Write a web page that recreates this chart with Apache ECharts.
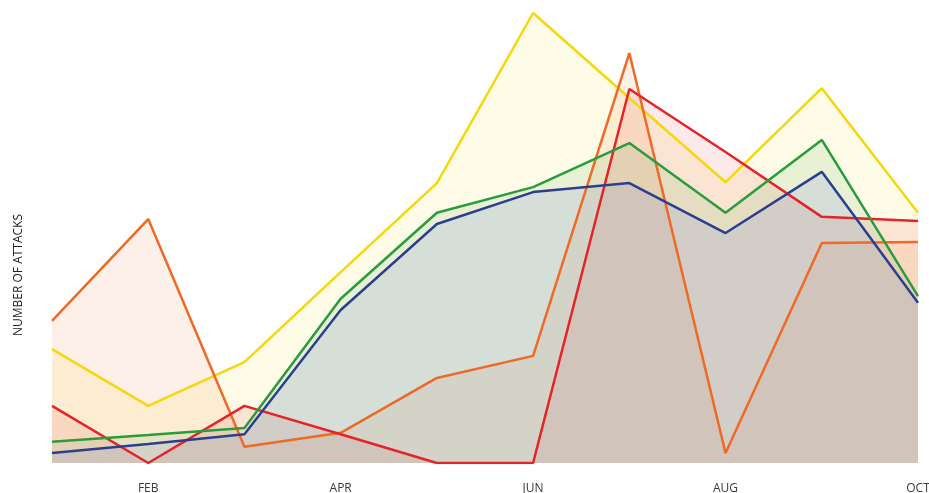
<!DOCTYPE html>
<html>
<head>
<meta charset="utf-8">
<title>Number of attacks</title>
<script src="https://cdn.jsdelivr.net/npm/echarts@6/dist/echarts.min.js"></script>
<style>
    html, body { margin: 0; padding: 0; background: #fff; }
    #chart { width: 929px; height: 493px; }
</style>
</head>
<body>
<div id="chart"></div>
<script>
var months = ['JAN', 'FEB', 'MAR', 'APR', 'MAY', 'JUN', 'JUL', 'AUG', 'SEP', 'OCT'];

// values (0..100 scale)
var yellowData = [25.3, 12.7, 22.4, 42.4, 62.2, 100, 81.1, 62.4, 83.3, 55.6];
var greenData = [4.7, 6.2, 7.8, 36.5, 55.6, 61.3, 71.1, 55.6, 71.8, 37.1];
var blueData = [2.2, 4.2, 6.4, 34.0, 53.1, 60.2, 62.2, 51.1, 64.7, 35.6];
var redData = [12.7, 0, 12.7, 6.4, 0, 0, 83.1, 69.1, 54.7, 53.8];
var orangeData = [31.6, 54.2, 3.6, 6.7, 18.9, 23.8, 91.1, 2.2, 48.9, 49.1];

var chart = echarts.init(document.getElementById('chart'));

function areaSeries(name, data, color, fill) {
    return {
        name: name,
        type: 'line',
        data: data,
        symbol: 'none',
        lineStyle: { color: color, width: 2.5 },
        itemStyle: { color: color },
        areaStyle: { color: fill, opacity: 1 }
    };
}

var option = {
    animation: false,
    grid: { left: 52, right: 11, top: 13, bottom: 30, outerBoundsMode: 'none' },
    xAxis: {
        type: 'category',
        boundaryGap: false,
        data: months,
        axisLine: { show: false },
        axisTick: { show: false },
        axisLabel: {
            interval: function (i) { return i % 2 === 1; },
            color: '#3a3a3a',
            fontFamily: 'Open Sans',
            fontSize: 12,
            margin: 20
        }
    },
    yAxis: {
        type: 'value',
        min: 0,
        max: 100,
        name: 'NUMBER OF ATTACKS',
        nameLocation: 'middle',
        nameRotate: 90,
        nameGap: 27,
        nameTextStyle: {
            color: '#222',
            fontFamily: 'Open Sans',
            fontSize: 12,
            padding: [0, 74, 0, 0]   // push the title a bit below the middle
        },
        axisLine: { show: false },
        axisTick: { show: false },
        axisLabel: { show: false },
        splitLine: { show: false }
    },
    series: [
        areaSeries('Yellow', yellowData, '#f6d70c', 'rgba(246,215,12,0.1)'),
        areaSeries('Orange', orangeData, '#ee6a26', 'rgba(238,106,38,0.1)'),
        areaSeries('Red', redData, '#e5242a', 'rgba(229,36,42,0.1)'),
        areaSeries('Green', greenData, '#2a9c3e', 'rgba(42,156,62,0.1)'),
        areaSeries('Blue', blueData, '#2c3f8f', 'rgba(100,120,230,0.15)')
    ]
};

chart.setOption(option);
</script>
</body>
</html>
